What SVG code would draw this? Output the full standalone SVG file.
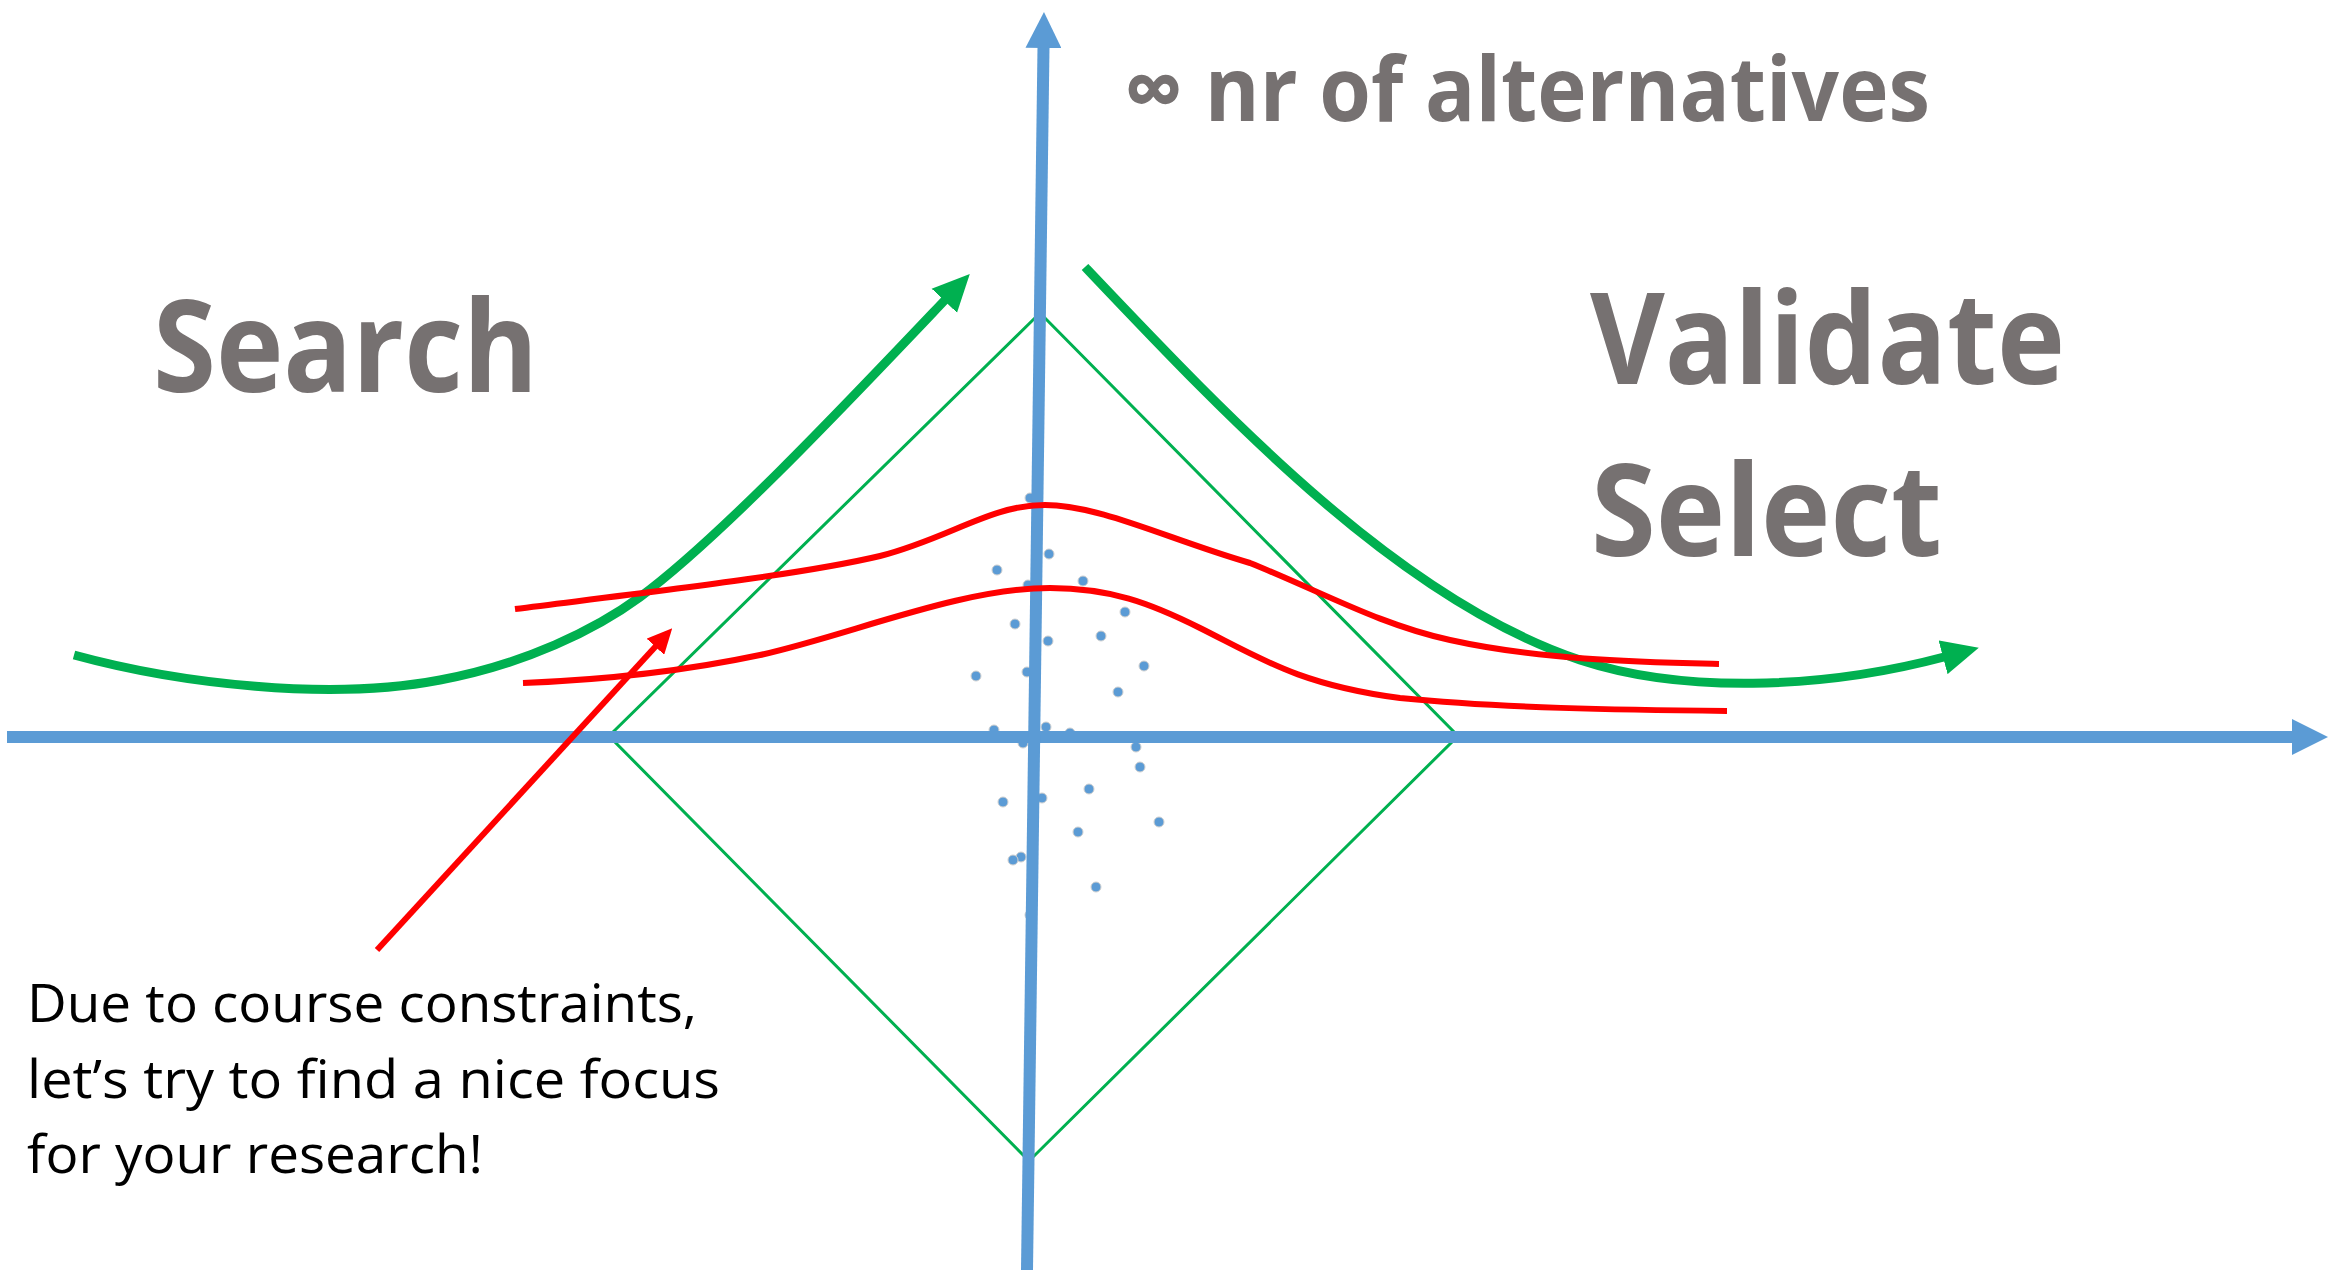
<svg xmlns="http://www.w3.org/2000/svg" width="2328" height="1276" viewBox="0 0 2328 1276">
<style>
.axis{fill:none;stroke:#5B9BD5;stroke-width:12}
.diamond{fill:none;stroke:#00B050;stroke-width:3}
.garrow{fill:none;stroke:#00B050;stroke-width:9}
.red{fill:none;stroke:#FF0000;stroke-width:6}
.dot{fill:#5B9BD5;stroke:#D0D0D0;stroke-width:1}
.big{font-family:"Open Sans","Noto Sans","DejaVu Sans",sans-serif;font-weight:700;fill:#767171}
.note{font-family:"Open Sans","Noto Sans",sans-serif;font-size:53px;fill:#000}
</style>
<defs>
<marker id="bh" markerUnits="userSpaceOnUse" markerWidth="36" markerHeight="36" viewBox="0 0 36 36" refX="1" refY="18" orient="auto"><path d="M0,0 L36,18 L0,36 z" fill="#5B9BD5"/></marker>
<marker id="gh" markerUnits="userSpaceOnUse" markerWidth="37" markerHeight="36" viewBox="0 0 37 36" refX="1" refY="18" orient="auto"><path d="M0,0.5 L37,18 L0,35.5 z" fill="#00B050"/></marker>
<marker id="rh" markerUnits="userSpaceOnUse" markerWidth="25" markerHeight="24" viewBox="0 0 25 24" refX="1" refY="12" orient="auto"><path d="M0,0 L25,12 L0,24 z" fill="#FF0000"/></marker>
</defs>
<g id="diamond"><path class="diamond" d="M1040,313 L1458,736 L1029,1161 L609,736 Z"/></g>
<g id="dots">
<circle class="dot" cx="1030" cy="498" r="5"/><circle class="dot" cx="1049" cy="554" r="5"/><circle class="dot" cx="997" cy="570" r="5"/><circle class="dot" cx="1083" cy="581" r="5"/><circle class="dot" cx="1028" cy="585" r="5"/><circle class="dot" cx="1125" cy="612" r="5"/><circle class="dot" cx="1015" cy="624" r="5"/><circle class="dot" cx="1048" cy="641" r="5"/><circle class="dot" cx="1101" cy="636" r="5"/><circle class="dot" cx="976" cy="676" r="5"/><circle class="dot" cx="1027" cy="672" r="5"/><circle class="dot" cx="1144" cy="666" r="5"/><circle class="dot" cx="1118" cy="692" r="5"/><circle class="dot" cx="994" cy="730" r="5"/><circle class="dot" cx="1046" cy="727" r="5"/><circle class="dot" cx="1070" cy="733" r="5"/><circle class="dot" cx="1023" cy="743" r="5"/><circle class="dot" cx="1136" cy="747" r="5"/><circle class="dot" cx="1140" cy="767" r="5"/><circle class="dot" cx="1089" cy="789" r="5"/><circle class="dot" cx="1042" cy="798" r="5"/><circle class="dot" cx="1003" cy="802" r="5"/><circle class="dot" cx="1159" cy="822" r="5"/><circle class="dot" cx="1078" cy="832" r="5"/><circle class="dot" cx="1021" cy="857" r="5"/><circle class="dot" cx="1013" cy="860" r="5"/><circle class="dot" cx="1096" cy="887" r="5"/><circle class="dot" cx="1030" cy="915" r="5"/>
</g>
<g id="connectors">
<path id="x-axis" class="axis" d="M7,737 L2293,737" marker-end="url(#bh)"/>
<path id="y-axis" class="axis" d="M1027,1270 L1043.5,47" marker-end="url(#bh)"/>
<path id="search-curve" class="garrow" d="M74,655 C180,684 330,701 440,680 C525,664 595,630 640,597 C720,538 850,400 945,300" marker-end="url(#gh)"/>
<path id="validate-curve" class="garrow" d="M1085,267 C1230,420 1400,600 1580,660 C1680,693 1820,690 1944,657" marker-end="url(#gh)"/>
<path id="red-upper" class="red" d="M515,609 C650,592 800,575 880,556 C950,538 990,505 1045,505 C1100,505 1170,540 1250,563 C1320,591 1380,625 1450,640 C1540,660 1640,662 1719,664"/>
<path id="red-lower" class="red" d="M523,683 C600,680 680,672 760,655 C850,635 960,588 1050,588 C1110,588 1150,603 1200,628 C1260,658 1300,685 1400,698 C1500,708 1620,710 1727,711"/>
<path id="focus-arrow" class="red" stroke-width="7" d="M377,950 L656,646" marker-end="url(#rh)"/>
</g>
<g id="label-alternatives"><text class="big" x="1124" y="121" font-size="90" textLength="806" lengthAdjust="spacingAndGlyphs">∞ nr of alternatives</text></g>
<g id="label-search"><text class="big" x="153" y="392" font-size="127" textLength="385" lengthAdjust="spacingAndGlyphs">Search</text></g>
<g id="label-validate"><text class="big" x="1590" y="384" font-size="127" textLength="475" lengthAdjust="spacingAndGlyphs">Validate</text></g>
<g id="label-select"><text class="big" x="1591" y="556" font-size="127" textLength="351" lengthAdjust="spacingAndGlyphs">Select</text></g>
<g id="note">
<text class="note" x="27" y="1022" textLength="670" lengthAdjust="spacingAndGlyphs">Due to course constraints,</text>
<text class="note" x="27" y="1098" textLength="693" lengthAdjust="spacingAndGlyphs">let’s try to find a nice focus</text>
<text class="note" x="27" y="1173" textLength="456" lengthAdjust="spacingAndGlyphs">for your research!</text>
</g>
</svg>
